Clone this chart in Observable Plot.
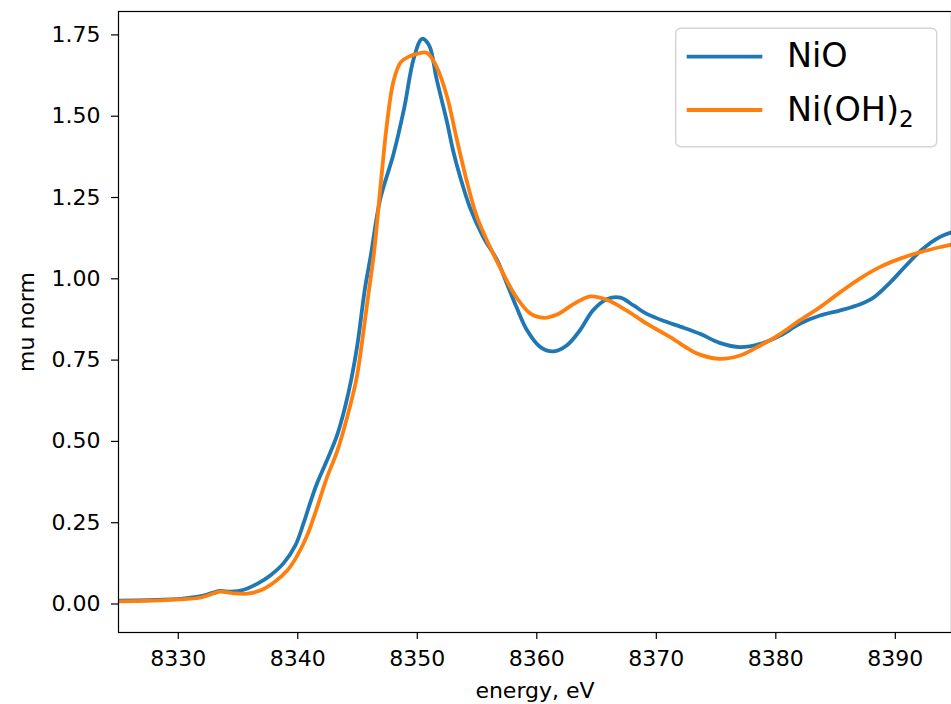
<!DOCTYPE html>
<html>
<head>
<meta charset="utf-8">
<script src="https://cdn.jsdelivr.net/npm/d3@7"></script>
<script src="https://cdn.jsdelivr.net/npm/@observablehq/plot@0.6"></script>
<style>
  html, body { margin: 0; padding: 0; background: #fff; }
  #chart { position: relative; width: 951px; height: 704px; }
</style>
</head>
<body>
<div id="chart"></div>
<script>
// Normalized Ni K-edge XANES spectra
const nioEnergy = [8325.0, 8327.5, 8330.2, 8331.9, 8333.0, 8333.5, 8334.4, 8335.5, 8336.6, 8337.7,
  8338.8, 8339.8, 8340.5, 8341.1, 8341.6, 8342.4, 8343.3, 8344.0, 8344.5, 8345.0,
  8345.6, 8346.1, 8346.9, 8348.0, 8348.9, 8349.7, 8350.4, 8351.0, 8351.6, 8352.5,
  8353.0, 8353.6, 8354.4, 8355.5, 8356.7, 8357.5, 8358.3, 8359.2, 8360.3, 8361.4,
  8362.5, 8363.6, 8364.7, 8365.9, 8367.0, 8368.1, 8369.2, 8370.9, 8372.0, 8373.7,
  8375.3, 8377.0, 8378.7, 8380.4, 8382.0, 8383.7, 8385.4, 8387.0, 8388.2, 8389.6,
  8390.9, 8392.3, 8393.7, 8394.7];
const nioMu = [0.010, 0.012, 0.016, 0.024, 0.036, 0.040, 0.038, 0.044, 0.062, 0.088,
  0.125, 0.180, 0.250, 0.318, 0.370, 0.438, 0.520, 0.612, 0.695, 0.800,
  0.965, 1.070, 1.245, 1.382, 1.524, 1.677, 1.738, 1.717, 1.617, 1.480,
  1.394, 1.312, 1.220, 1.130, 1.056, 0.985, 0.913, 0.841, 0.790, 0.777,
  0.795, 0.841, 0.903, 0.938, 0.942, 0.918, 0.892, 0.867, 0.853, 0.830,
  0.803, 0.790, 0.800, 0.826, 0.862, 0.887, 0.903, 0.921, 0.943, 0.990,
  1.041, 1.092, 1.128, 1.143];

const nohEnergy = [8325.0, 8327.5, 8330.2, 8331.9, 8333.0, 8333.5, 8334.6, 8335.8, 8336.9, 8338.0,
  8339.1, 8339.9, 8340.8, 8341.6, 8342.4, 8343.3, 8344.1, 8344.9, 8345.2, 8345.8,
  8346.4, 8346.9, 8347.5, 8348.0, 8348.6, 8349.4, 8350.0, 8350.8, 8351.6, 8352.5,
  8353.3, 8354.2, 8355.0, 8356.1, 8357.2, 8358.3, 8359.5, 8360.6, 8361.7, 8363.1,
  8364.5, 8365.9, 8367.5, 8369.2, 8371.2, 8372.8, 8373.7, 8375.3, 8377.0, 8378.7,
  8380.4, 8382.0, 8383.7, 8385.4, 8387.0, 8388.7, 8390.4, 8392.1, 8393.7, 8394.7];
const nohMu = [0.008, 0.010, 0.014, 0.020, 0.033, 0.038, 0.033, 0.032, 0.042, 0.066,
  0.102, 0.145, 0.212, 0.295, 0.385, 0.470, 0.570, 0.690, 0.758, 0.922,
  1.087, 1.276, 1.488, 1.606, 1.665, 1.685, 1.692, 1.695, 1.653, 1.559,
  1.430, 1.292, 1.190, 1.097, 1.015, 0.943, 0.892, 0.880, 0.890, 0.923,
  0.946, 0.935, 0.903, 0.862, 0.820, 0.782, 0.766, 0.754, 0.764, 0.795,
  0.831, 0.872, 0.913, 0.959, 1.000, 1.036, 1.062, 1.082, 1.097, 1.105];

const seriesNames = ["NiO", "Ni(OH)2"];
const seriesColors = ["#1f77b4", "#ff7f0e"];
const xTicks = [8330, 8340, 8350, 8360, 8370, 8380, 8390];
const yTicks = [0.00, 0.25, 0.50, 0.75, 1.00, 1.25, 1.50, 1.75];
const xLabel = "energy, eV";
const yLabel = "mu norm";

const rows = [
  ...nioEnergy.map((e, i) => ({energy: e, mu: nioMu[i], sample: seriesNames[0]})),
  ...nohEnergy.map((e, i) => ({energy: e, mu: nohMu[i], sample: seriesNames[1]}))
];

const font = "DejaVu Sans, Liberation Sans, sans-serif";
const tickFont = 22;

const chart = Plot.plot({
  width: 951,
  height: 704,
  marginLeft: 118,
  marginRight: 0,
  marginTop: 11,
  marginBottom: 72,
  style: {fontFamily: font, color: "black", background: "white", overflow: "visible"},
  x: {domain: [8325, 8394.7]},
  y: {domain: [-0.0876, 1.822]},
  color: {domain: seriesNames, range: seriesColors},
  marks: [
    Plot.line(rows, {
      x: "energy", y: "mu", stroke: "sample", z: "sample",
      strokeWidth: 3.8, curve: "catmull-rom", clip: true
    }),
    Plot.frame({stroke: "black", strokeWidth: 1.2}),
    Plot.axisX({
      ticks: xTicks, tickFormat: d => String(d), tickSize: 7, tickPadding: 11,
      fontSize: tickFont, strokeWidth: 1.2, label: null
    }),
    Plot.axisY({
      ticks: yTicks, tickFormat: d3.format(".2f"), tickSize: 7, tickPadding: 11,
      fontSize: tickFont, strokeWidth: 1.2, label: null
    }),
    Plot.text([xLabel], {
      frameAnchor: "bottom", lineAnchor: "middle", textAnchor: "middle", dy: 58,
      fontSize: tickFont, fill: "black", text: d => d
    }),
    Plot.text([yLabel], {
      frameAnchor: "left", lineAnchor: "middle", textAnchor: "middle", rotate: -90, dx: -92,
      fontSize: tickFont, fill: "black", text: d => d
    })
  ]
});

document.getElementById("chart").appendChild(chart);

// Legend box in the upper right of the axes
const svg = d3.select(chart);
const lg = svg.append("g").attr("font-family", font).attr("text-anchor", "start");
lg.append("rect")
  .attr("x", 675.7).attr("y", 28.3).attr("width", 261).attr("height", 118.4)
  .attr("rx", 5).attr("fill", "white").attr("fill-opacity", 0.8)
  .attr("stroke", "#d4d4d4").attr("stroke-width", 1.4);
seriesNames.forEach((name, i) => {
  const cy = 56.7 + i * 53.3;
  lg.append("line")
    .attr("x1", 686.7).attr("x2", 762.3).attr("y1", cy).attr("y2", cy)
    .attr("stroke", seriesColors[i]).attr("stroke-width", 3.8);
  const t = lg.append("text")
    .attr("x", 787).attr("y", cy + 10.5).attr("font-size", 33.5).attr("fill", "black")
    .attr("text-anchor", "start");
  const m = name.match(/^(.*?)(\d+)$/);
  if (m) {
    t.append("tspan").text(m[1]);
    t.append("tspan").attr("font-size", 23).attr("dy", 6.7).text(m[2]);
  } else {
    t.text(name);
  }
});
</script>
</body>
</html>
